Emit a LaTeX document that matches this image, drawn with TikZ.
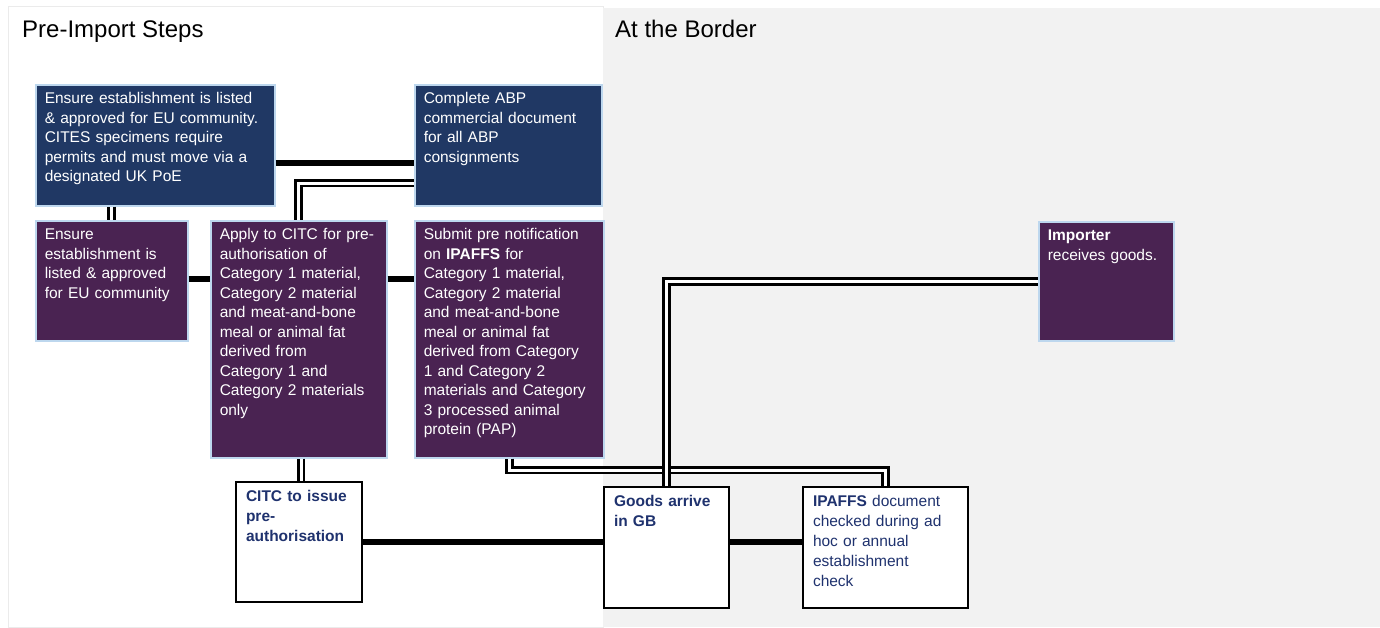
\documentclass[tikz,border=0pt]{standalone}
\usepackage{fontspec}
\setmainfont{Liberation Sans}
\newlength{\du}
\setlength{\du}{1pt}
\definecolor{stepblue}{RGB}{32,56,100}
\definecolor{steppurple}{RGB}{74,35,82}
\definecolor{stepedge}{RGB}{189,215,238}
\definecolor{stepnavy}{RGB}{31,50,110}
\definecolor{borderbg}{RGB}{242,242,242}
\tikzset{
  paneltitle/.style={anchor=base west, inner sep=0pt, font=\fontsize{24}{28}\selectfont},
  stepbox/.style n args={3}{draw=stepedge, fill=#1, line width=1.5\du, anchor=north west, align=left,
    inner xsep=9\du, inner ysep=8\du, text width=#2, text height=11\du, text depth=#3,
    text=white, font=\fontsize{15.5}{19.5}\selectfont},
  checkbox/.style 2 args={draw=black, fill=white, line width=2\du, anchor=north west, align=left,
    inner xsep=10\du, inner ysep=8\du, text width=#1, text height=11\du, text depth=#2,
    text=stepnavy, font=\fontsize{15.5}{20}\selectfont},
  thickline/.style={line width=6\du},
  dblline/.style={line width=2.8\du, double=white, double distance=3\du},
}
\begin{document}
\begin{tikzpicture}
\pgftransformxscale{1.000000}
\pgftransformyscale{-1.000000}
\useasboundingbox (0\du,0\du) rectangle (1380\du,627\du);
% the two panels
\draw[draw=black!8, fill=white, line width=1\du] (8\du,6\du) rectangle (603\du,627\du);
\fill[borderbg] (603\du,8\du) rectangle (1380\du,627\du);
\node[paneltitle] (pretitle) at (22\du,37\du) {Pre-Import Steps};
\node[paneltitle] (bordertitle) at (615\du,37\du) {At the Border};
% pre-import steps
\node[stepbox={stepblue}{221\du}{94\du}] (listed) at (35\du,84\du)
  {Ensure establishment is listed\\ \& approved for EU community.\\ CITES specimens require\\ permits and must move via a\\ designated UK PoE};
\node[stepbox={stepblue}{169\du}{94\du}] (abpdoc) at (414\du,84\du)
  {Complete ABP\\ commercial document\\ for all ABP\\ consignments};
\node[stepbox={steppurple}{134\du}{93\du}] (approved) at (35\du,220\du)
  {Ensure\\ establishment is\\ listed \& approved\\ for EU community};
\node[stepbox={steppurple}{158\du}{210\du}] (citc) at (210\du,220\du)
  {Apply to CITC for pre-\\ authorisation of\\ Category 1 material,\\ Category 2 material\\ and meat-and-bone\\ meal or animal fat\\ derived from\\ Category 1 and\\ Category 2 materials\\ only};
\node[stepbox={steppurple}{171\du}{210\du}] (prenote) at (414\du,220\du)
  {Submit pre notification\\ on \textbf{IPAFFS} for\\ Category 1 material,\\ Category 2 material\\ and meat-and-bone\\ meal or animal fat\\ derived from Category\\ 1 and Category 2\\ materials and Category\\ 3 processed animal\\ protein (PAP)};
\node[checkbox={106\du}{93\du}] (issue) at (235\du,481\du)
  {\textbf{CITC to issue\\ pre-\\ authorisation}};
% at the border
\node[checkbox={105\du}{94\du}] (arrive) at (603\du,486\du)
  {\textbf{Goods arrive\\ in GB}};
\node[checkbox={145\du}{94\du}] (ipaffs) at (802\du,486\du)
  {\textbf{IPAFFS} document\\ checked during ad\\ hoc or annual\\ establishment\\ check};
\node[stepbox={steppurple}{117\du}{92\du}] (importer) at (1038\du,221\du)
  {\textbf{Importer}\\ receives goods.};
% connectors
\coordinate (toprow) at (0\du,163\du);
\coordinate (midrow) at (0\du,279\du);
\coordinate (abprow) at (0\du,183\du);
\coordinate (checkrow) at (0\du,470\du);
\coordinate (citcleg) at (301\du,0\du);
\draw[thickline] (listed.east |- toprow) -- (abpdoc.west |- toprow);
\draw[thickline] (approved.east |- midrow) -- (citc.west |- midrow);
\draw[thickline] (citc.east |- midrow) -- (prenote.west |- midrow);
\draw[thickline] (issue.east) -- (issue.east -| arrive.west);
\draw[thickline] (arrive.east |- issue.east) -- (ipaffs.west |- issue.east);
\draw[dblline] (approved.north |- listed.south) -- (approved.north);
\draw[dblline] (abpdoc.west |- abprow) -| (citc.north);
\draw[dblline] (citc.south -| citcleg) -- (issue.north -| citcleg);
\draw[dblline] (prenote.south) -- (prenote.south |- checkrow) -| (ipaffs.north);
\draw[dblline] (arrive.north) |- (importer.west);
\end{tikzpicture}
\end{document}
